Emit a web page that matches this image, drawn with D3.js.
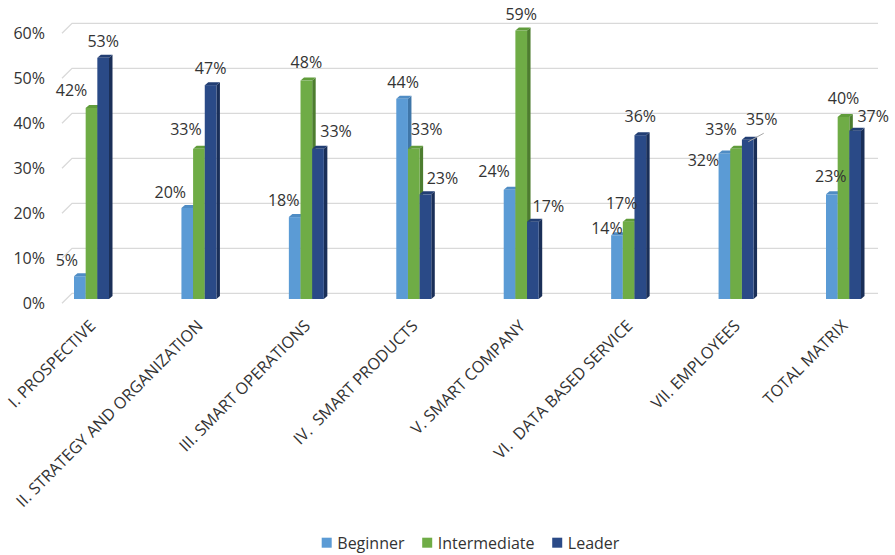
<!DOCTYPE html>
<html>
<head>
<meta charset="utf-8">
<script src="https://cdn.jsdelivr.net/npm/d3@7"></script>
<style>
  html, body { margin: 0; padding: 0; background: #fff; }
  svg { display: block; }
  text { font-family: "Open Sans", "DejaVu Sans", sans-serif; fill: #333; }
</style>
</head>
<body>
<svg id="chart" width="895" height="555"></svg>
<script>
// Maturity level share per dimension (percent)
const categories = [
  "I. PROSPECTIVE",
  "II. STRATEGY AND ORGANIZATION",
  "III. SMART OPERATIONS",
  "IV.  SMART PRODUCTS",
  "V. SMART COMPANY",
  "VI.  DATA BASED SERVICE",
  "VII. EMPLOYEES",
  "TOTAL MATRIX"
];
const seriesNames = ["Beginner", "Intermediate", "Leader"];
const beginner     = [5, 20, 18, 44, 24, 14, 32, 23];
const intermediate = [42, 33, 48, 33, 59, 17, 33, 40];
const leader       = [53, 47, 33, 23, 17, 36, 35, 37];
const yTicks = [0, 10, 20, 30, 40, 50, 60];

// Per-label nudges [dx, dy] relative to the top of each column's front face
const labelOffsets = [
  [[-13,-15.5],[-17,-16],[-11,-17],[1,-16],[-15.5,-18],[-10,-7],[-21,6.6],[-1,-18]],
  [[-20,-18],[-13,-19],[0,-18],[13,-19],[0,-16.5],[-7,-18],[-15,-19],[0,-19]],
  [[0,-16],[0,-17],[18,-17],[17,-16],[15.5,-15.6],[0,-18.5],[14,-20],[18,-14]]
];

const values = [beginner, intermediate, leader];
const palette = {
  front: ["#5b9bd5", "#6fac46", "#2a4a87"],
  side:  ["#3f76a8", "#4d7d2f", "#1a2f58"],
  top:   ["#4f8cc4", "#609c3b", "#223e73"]
};

const svg = d3.select("#chart");

const xGroup = d3.scalePoint().domain(categories).range([91.5, 843.5]);
const xSeries = d3.scaleBand().domain(seriesNames).range([-17.5, 17.5]);
const yBar = d3.scaleLinear().domain([0, 60]).range([299, 26]);
const yWall = d3.scaleLinear().domain([0, 60]).range([293.3, 23.3]);

const wallLeft = 72, wallRight = 878, slant = 10;

// Back wall gridlines with the short floor/side-wall slant on the left
svg.append("g").selectAll("path")
  .data(yTicks)
  .join("path")
  .attr("d", t => `M${wallLeft - slant},${yWall(t) + slant} L${wallLeft},${yWall(t)} L${wallRight},${yWall(t)}`)
  .attr("fill", "none")
  .attr("stroke", "#d9d9d9")
  .attr("stroke-width", 1.3);

// Value axis labels
svg.append("g").selectAll("text")
  .data(yTicks)
  .join("text")
  .attr("x", 45)
  .attr("y", t => yWall(t) + slant)
  .attr("dy", "0.35em")
  .attr("text-anchor", "end")
  .attr("font-size", 16)
  .text(t => t + "%");

// 3D columns
const bw = xSeries.bandwidth();
const dx = 3.5, dz = 3;
const base = yBar(0);
const barsG = svg.append("g");
categories.forEach((cat, ci) => {
  seriesNames.forEach((s, si) => {
    const v = values[si][ci];
    const x0 = xGroup(cat) + xSeries(s);
    const x1 = x0 + bw;
    const yt = yBar(v);
    const g = barsG.append("g");
    g.append("polygon")
      .attr("points", [[x1, yt], [x1 + dx, yt - dz], [x1 + dx, base - dz], [x1, base]].join(" "))
      .attr("fill", palette.side[si]);
    g.append("rect")
      .attr("x", x0).attr("y", yt)
      .attr("width", bw).attr("height", base - yt)
      .attr("fill", palette.front[si]);
    g.append("polygon")
      .attr("points", [[x0, yt], [x0 + dx, yt - dz], [x1 + dx, yt - dz], [x1, yt]].join(" "))
      .attr("fill", palette.top[si]);
  });
});

// Data labels
const labelsG = svg.append("g");
categories.forEach((cat, ci) => {
  seriesNames.forEach((s, si) => {
    const v = values[si][ci];
    const cx = xGroup(cat) + xSeries(s) + bw / 2;
    const off = labelOffsets[si][ci];
    labelsG.append("text")
      .attr("x", cx + off[0])
      .attr("y", yBar(v) + off[1])
      .attr("dy", "0.35em")
      .attr("text-anchor", "middle")
      .attr("font-size", 16)
      .text(v + "%");
  });
});

// Callout line for the Employees / Leader label
{
  const cat = categories[6];
  const cx = xGroup(cat) + xSeries("Leader") + bw / 2;
  const yt = yBar(leader[6]);
  svg.append("line")
    .attr("x1", cx + 0.5).attr("y1", yt + 2)
    .attr("x2", cx + 16).attr("y2", yt - 6.5)
    .attr("stroke", "#a6a6a6")
    .attr("stroke-width", 1);
}

// Category labels, rotated
svg.append("g").selectAll("text")
  .data(categories)
  .join("text")
  .attr("transform", c => `translate(${xGroup(c) + 5},327) rotate(-45)`)
  .attr("text-anchor", "end")
  .attr("font-size", 16.2)
  .attr("xml:space", "preserve")
  .text(c => c);

// Legend
const legend = svg.append("g");
let lx = 321.7;
seriesNames.forEach((s, si) => {
  legend.append("rect")
    .attr("x", lx).attr("y", 537.7)
    .attr("width", 10).attr("height", 10)
    .attr("fill", palette.front[si]);
  const t = legend.append("text")
    .attr("x", lx + 15.6)
    .attr("y", 543)
    .attr("dy", "0.35em")
    .attr("font-size", 16)
    .text(s);
  lx += 15.6 + t.node().getComputedTextLength() + 17.7;
});
</script>
</body>
</html>
